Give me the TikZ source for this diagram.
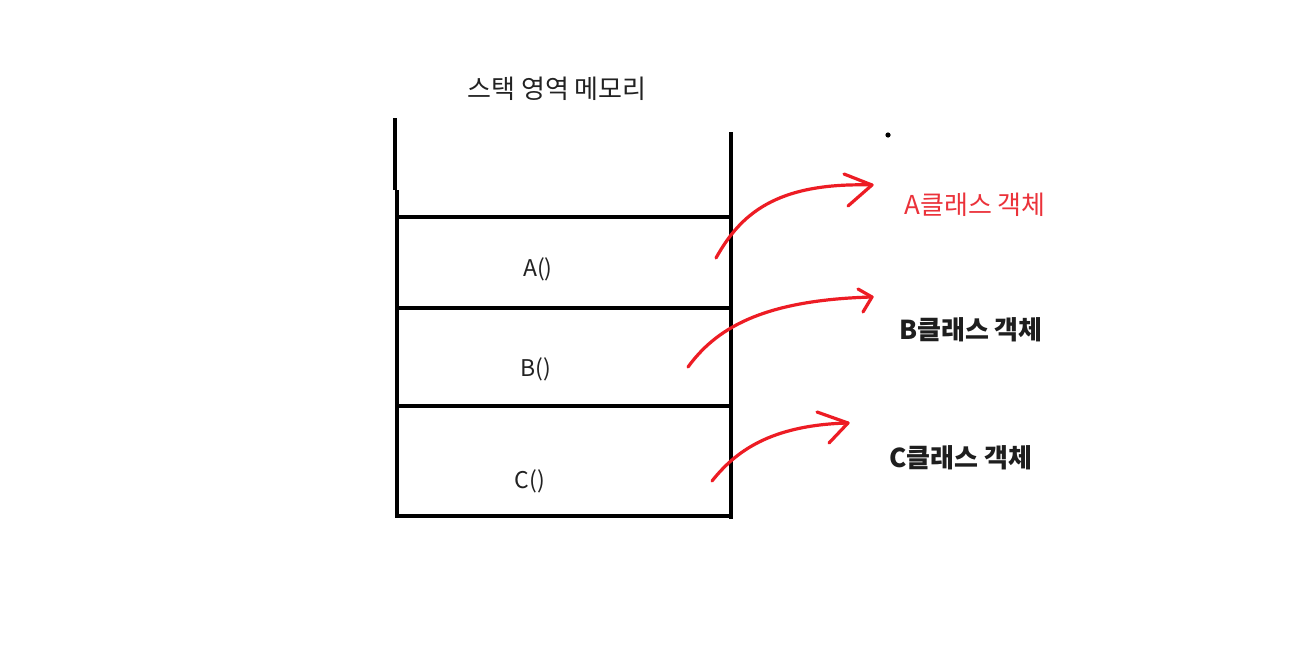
\documentclass[tikz,border=0pt]{standalone}
\usepackage{fontspec}
\setmainfont{Noto Sans CJK KR}
\begin{document}
\begin{tikzpicture}[x=1pt,y=-1pt,
  wall/.style={line width=4.5pt,black},
  redline/.style={line width=3.2pt,draw={rgb,255:red,237;green,28;blue,36},line cap=round,line join=round},
  lbl/.style={inner sep=0pt,text={rgb,255:red,34;green,34;blue,34},font=\fontsize{23}{26}\selectfont},
  cls/.style={inner sep=0pt,font=\fontsize{26}{30}\selectfont\bfseries,text={rgb,255:red,30;green,30;blue,30}}]
\useasboundingbox[fill=white] (0,0) rectangle (1303,648);
% stack walls
\coordinate (lt) at (395,118);
\coordinate (lm) at (395,190);
\coordinate (lm2) at (397,190);
\coordinate (lb) at (397,518);
\coordinate (rt) at (731,132);
\coordinate (rb) at (731,519);
\draw[wall] (lt) -- (lm);
\draw[wall] (lm2) -- (lb);
\draw[wall] (rt) -- (rb);
\foreach \y/\n in {217/r1,308/r2,406/r3,516/r4}{
  \coordinate (\n l) at (397,\y);
  \coordinate (\n r) at (731,\y);
  \draw[wall] (\n l) -- (\n r);
}
% texts
\node[lbl,font=\fontsize{26}{30}\selectfont] (title) at (557,89) {스택 영역 메모리};
\node[lbl] (fa) at (538,269) {A()};
\node[lbl] (fb) at (536,369) {B()};
\node[lbl] (fc) at (530,481) {C()};
\node[inner sep=0pt,font=\fontsize{26}{30}\selectfont,text={rgb,255:red,235;green,50;blue,58}] (ca) at (975,205) {A클래스 객체};
\node[cls] (cb) at (971,330) {B클래스 객체};
\node[cls] (cc) at (961,458) {C클래스 객체};
\fill (888,135) circle (2.6);
% arrows
\coordinate (sA) at (716,258);
\coordinate (eA) at (872,185);
\coordinate (hA1) at (844,174);
\coordinate (hA2) at (848,206);
\draw[redline] (sA) .. controls (740,215) and (775,182) .. (eA);
\draw[redline] (hA1) -- (eA) -- (hA2);
\coordinate (sB) at (688,367);
\coordinate (eB) at (872,297);
\coordinate (hB1) at (858,289);
\coordinate (hB2) at (863,312);
\draw[redline] (sB) .. controls (715,330) and (760,300) .. (eB);
\draw[redline] (hB1) -- (eB) -- (hB2);
\coordinate (sC) at (712,481);
\coordinate (eC) at (848,423);
\coordinate (hC1) at (817,412);
\coordinate (hC2) at (829,443);
\draw[redline] (sC) .. controls (735,452) and (770,425) .. (eC);
\draw[redline] (hC1) -- (eC) -- (hC2);
\end{tikzpicture}
\end{document}
